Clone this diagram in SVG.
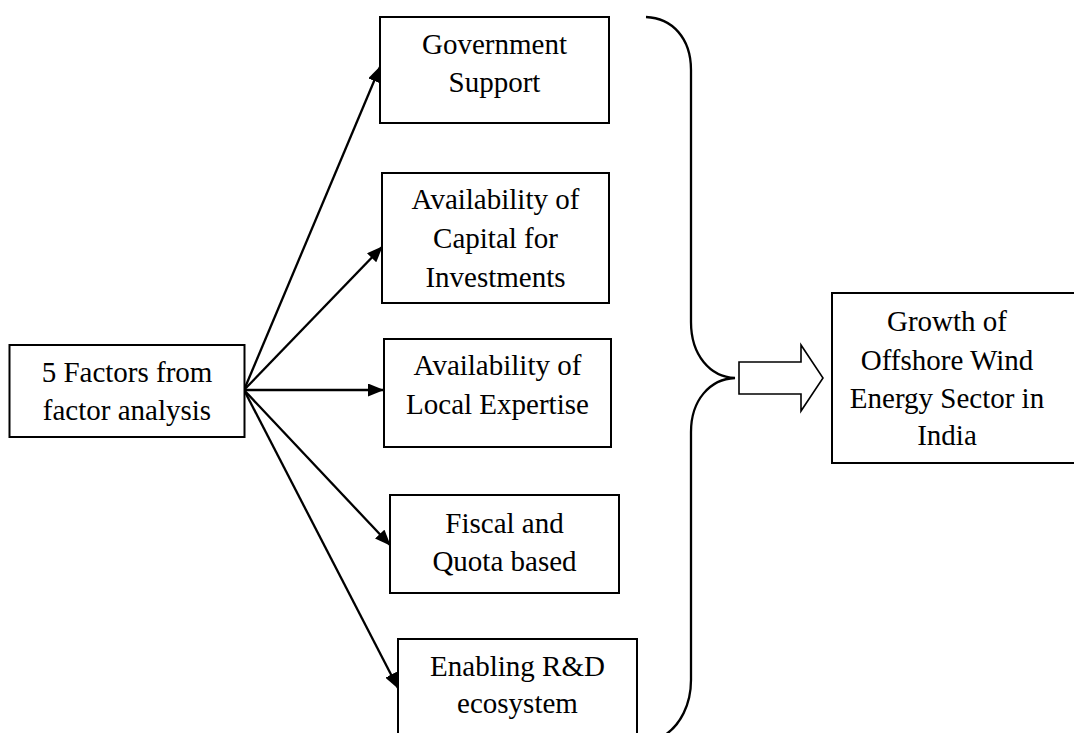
<svg xmlns="http://www.w3.org/2000/svg" width="1074" height="733" viewBox="0 0 1074 733">
<defs>
<style>
.box{fill:#fff;stroke:#000;stroke-width:2}
.t{font-family:"Liberation Serif","Times New Roman",serif;font-size:29px;fill:#000;text-anchor:middle}
.c{stroke:#000;stroke-width:2.3;fill:none}
</style>
<marker id="ah" markerWidth="16" markerHeight="13" refX="15" refY="6.5" orient="auto" markerUnits="userSpaceOnUse">
<path d="M0,0 L16,6.5 L0,13 Z" fill="#000"/>
</marker>
</defs>
<rect width="1074" height="733" fill="#fff"/>
<g id="connectors">
<line class="c" x1="244" y1="390" x2="380" y2="67" marker-end="url(#ah)"/>
<line class="c" x1="244" y1="390" x2="382" y2="247" marker-end="url(#ah)"/>
<line class="c" x1="244" y1="390" x2="383" y2="390" marker-end="url(#ah)"/>
<line class="c" x1="244" y1="390" x2="390" y2="545" marker-end="url(#ah)"/>
<line class="c" x1="244" y1="390" x2="398" y2="688" marker-end="url(#ah)"/>
<path class="c" d="M646,17 C672,18 691,38 691,70 L691,322 C691,355 710,377 735,378 C710,379 691,400 691,432 L691,680 C691,705 680,725 665,735"/>
<polygon points="739,362 801,362 801,345 823,378 801,411 801,394 739,394" fill="#fff" stroke="#000" stroke-width="1.6"/>
</g>
<g id="n-factors">
<rect class="box" x="9.5" y="345" width="235" height="92"/>
<text class="t" x="127" y="382">5 Factors from</text>
<text class="t" x="127" y="420">factor analysis</text>
</g>
<g id="n-gov">
<rect class="box" x="380" y="17" width="229" height="106"/>
<text class="t" x="494.5" y="54">Government</text>
<text class="t" x="494.5" y="92">Support</text>
</g>
<g id="n-capital">
<rect class="box" x="382" y="173" width="227" height="130"/>
<text class="t" x="495.5" y="209">Availability of</text>
<text class="t" x="495.5" y="248">Capital for</text>
<text class="t" x="495.5" y="287">Investments</text>
</g>
<g id="n-expertise">
<rect class="box" x="384" y="339" width="227" height="108"/>
<text class="t" x="497.5" y="375">Availability of</text>
<text class="t" x="497.5" y="414">Local Expertise</text>
</g>
<g id="n-fiscal">
<rect class="box" x="390" y="495" width="229" height="98"/>
<text class="t" x="504.5" y="533">Fiscal and</text>
<text class="t" x="504.5" y="571">Quota based</text>
</g>
<g id="n-rd">
<rect class="box" x="398" y="639" width="239" height="110"/>
<text class="t" x="517.5" y="676">Enabling R&amp;D</text>
<text class="t" x="517.5" y="713">ecosystem</text>
</g>
<g id="n-growth">
<rect class="box" x="832" y="293" width="250" height="170"/>
<text class="t" x="947" y="331">Growth of</text>
<text class="t" x="947" y="370">Offshore Wind</text>
<text class="t" x="947" y="408">Energy Sector in</text>
<text class="t" x="947" y="445">India</text>
</g>
</svg>
